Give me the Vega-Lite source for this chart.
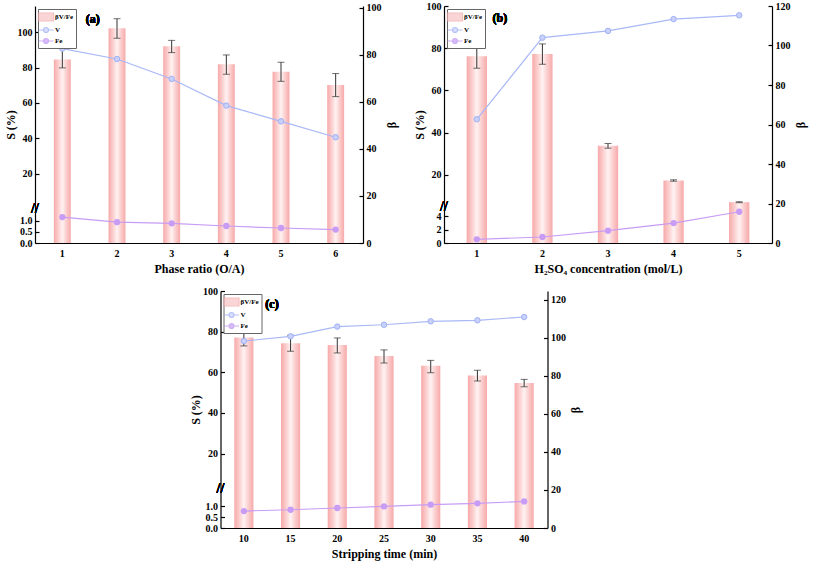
{
  "$schema": "https://vega.github.io/schema/vega-lite/v6.json",
  "padding": {"left": 4, "top": 1, "right": 3, "bottom": 3},
  "config": {
    "font": "Liberation Serif",
    "view": {"stroke": null},
    "axis": {
      "grid": false, "domainColor": "#000", "domainWidth": 1.2,
      "tickColor": "#000", "tickWidth": 1.2, "tickSize": -4, "labelPadding": 7,
      "labelFont": "Liberation Serif", "labelFontSize": 10, "labelFontWeight": "bold", "labelColor": "#000",
      "titleFont": "Liberation Serif", "titleFontSize": 12, "titleFontWeight": "bold", "titleColor": "#000",
      "labelOverlap": false
    },
    "axisX": {"labelAngle": 0, "titlePadding": 5, "labelPadding": 9},
    "axisLeft": {"titlePadding": 0},
    "axisRight": {"titleAngle": 270, "titleBaseline": "top", "titlePadding": 5},
    "legend": {
      "orient": "top-left", "offset": 3, "strokeColor": "#666", "padding": 2,
      "labelFont": "Liberation Serif", "labelFontSize": 7, "labelFontWeight": "bold",
      "symbolSize": 100, "rowPadding": 0, "labelOffset": 3, "fillColor": "#fff", "symbolStrokeWidth": 1.2
    }
  },
  "datasets": {
    "a": [
      {"x": 1, "beta": 78.0, "lo": 74.4, "hi": 82.6, "V": 90.8, "Fe": 1.16},
      {"x": 2, "beta": 91.2, "lo": 87.0, "hi": 95.3, "V": 84.9, "Fe": 0.93},
      {"x": 3, "beta": 83.6, "lo": 80.9, "hi": 86.1, "V": 73.6, "Fe": 0.88},
      {"x": 4, "beta": 75.9, "lo": 71.7, "hi": 79.9, "V": 58.5, "Fe": 0.76},
      {"x": 5, "beta": 72.8, "lo": 68.7, "hi": 76.8, "V": 49.6, "Fe": 0.67},
      {"x": 6, "beta": 67.1, "lo": 62.2, "hi": 72.0, "V": 40.6, "Fe": 0.60}
    ],
    "b": [
      {"x": 1, "beta": 94.6, "lo": 88.5, "hi": 100.6, "V": 46.3, "Fe": 0.54},
      {"x": 2, "beta": 95.7, "lo": 90.5, "hi": 100.8, "V": 85.0, "Fe": 0.89},
      {"x": 3, "beta": 49.2, "lo": 48.0, "hi": 50.4, "V": 88.2, "Fe": 1.83},
      {"x": 4, "beta": 31.7, "lo": 31.3, "hi": 32.0, "V": 93.8, "Fe": 2.96},
      {"x": 5, "beta": 20.7, "lo": 20.4, "hi": 20.9, "V": 95.6, "Fe": 4.64}
    ],
    "c": [
      {"x": 10, "beta": 100.2, "lo": 95.8, "hi": 104.2, "V": 75.4, "Fe": 0.77},
      {"x": 15, "beta": 97.2, "lo": 93.0, "hi": 101.4, "V": 77.7, "Fe": 0.83},
      {"x": 20, "beta": 96.3, "lo": 92.1, "hi": 100.0, "V": 82.5, "Fe": 0.91},
      {"x": 25, "beta": 90.5, "lo": 86.8, "hi": 93.7, "V": 83.4, "Fe": 0.98},
      {"x": 30, "beta": 85.4, "lo": 81.7, "hi": 88.2, "V": 85.1, "Fe": 1.06},
      {"x": 35, "beta": 80.3, "lo": 77.3, "hi": 83.0, "V": 85.6, "Fe": 1.12},
      {"x": 40, "beta": 76.3, "lo": 74.3, "hi": 78.2, "V": 87.2, "Fe": 1.21}
    ]
  },
  "spacing": 12,
  "center": true,
  "resolve": {"scale": {"color": "independent", "stroke": "independent", "shape": "independent"}, "legend": {"color": "independent", "stroke": "independent", "shape": "independent"}},
  "vconcat": [
    {
      "spacing": 16,
      "resolve": {"scale": {"color": "independent", "stroke": "independent", "shape": "independent"}, "legend": {"color": "independent", "stroke": "independent", "shape": "independent"}},
      "hconcat": [
        {
          "width": 328, "height": 237,
          "data": {"name": "a"},
          "encoding": {"x": {"field": "x", "type": "ordinal", "scale": {"paddingInner": 0, "paddingOuter": 0}, "axis": {"title": "Phase ratio (O/A)"}}},
          "layer": [
            {
              "encoding": {"y": {"field": "beta", "type": "quantitative", "scale": {"domain": [0, 100.7], "nice": false, "zero": false}, "axis": {"orient": "right", "title": "β", "values": [0, 20, 40, 60, 80, 100]}}},
              "layer": [
                {"mark": {"type": "bar", "width": {"band": 0.31}, "fill": {"gradient": "linear", "x1": 0, "y1": 0, "x2": 1, "y2": 0, "stops": [{"offset": 0, "color": "#f7a9a9"}, {"offset": 0.25, "color": "#fbcccc"}, {"offset": 0.5, "color": "#fff2f2"}, {"offset": 0.75, "color": "#fbcccc"}, {"offset": 1, "color": "#f7a9a9"}]}}},
                {"mark": {"type": "rule", "color": "#333", "strokeWidth": 1}, "encoding": {"y": {"field": "lo", "type": "quantitative"}, "y2": {"field": "hi"}}},
                {"mark": {"type": "tick", "color": "#333", "size": 7, "thickness": 1}, "encoding": {"y": {"field": "lo", "type": "quantitative"}}},
                {"mark": {"type": "tick", "color": "#333", "size": 7, "thickness": 1}, "encoding": {"y": {"field": "hi", "type": "quantitative"}}}
              ]
            },
            {
              "transform": [{"fold": ["V", "Fe"], "as": ["series", "S"]}],
              "encoding": {"y": {"field": "S", "type": "quantitative",
                "scale": {"domain": [0, 1.4, 2, 114.9], "range": [237, 205.7, 199.4, 0], "nice": false, "zero": false},
                "axis": {"orient": "left", "title": "S (%)", "values": [0, 0.5, 1, 20, 40, 60, 80, 100],
                  "labelExpr": "datum.value < 1.5 ? format(datum.value, '.1f') : format(datum.value, 'd')"}}},
              "layer": [
                {"transform": [{"filter": "datum.series == 'V'"}], "mark": {"type": "line", "color": "#a9b8f7", "strokeWidth": 1.2}},
                {"transform": [{"filter": "datum.series == 'V'"}], "mark": {"type": "circle", "size": 30, "fill": "#c9d1fa", "stroke": "#a0b1f5", "strokeWidth": 1, "opacity": 1}},
                {"transform": [{"filter": "datum.series == 'Fe'"}], "mark": {"type": "line", "color": "#c89cf5", "strokeWidth": 1.2}},
                {"transform": [{"filter": "datum.series == 'Fe'"}], "mark": {"type": "circle", "size": 40, "color": "#c89cf5", "opacity": 1}},
                {"mark": {"type": "text", "text": "(a)", "align": "left", "baseline": "middle", "fontSize": 12, "fontWeight": "bold"}, "encoding": {"x": {"datum": 1, "type": "ordinal", "bandPosition": 0.93}, "y": {"datum": 107.5, "type": "quantitative"}}},
                {"mark": {"type": "text", "text": "//", "align": "center", "baseline": "middle", "fontSize": 14, "color": "#000"}, "encoding": {"x": {"datum": 1, "type": "ordinal", "bandPosition": 0}, "y": {"datum": 1.7, "type": "quantitative"}}},
                {"transform": [{"filter": "false"}], "mark": {"type": "point", "filled": true, "strokeWidth": 1.2},
                 "encoding": {
                   "color": {"field": "series", "type": "nominal", "scale": {"domain": ["βV/Fe", "V", "Fe"], "range": ["#f9c4c4", "#c9d1fa", "#c89cf5"]}, "legend": {"title": null}},
                   "stroke": {"field": "series", "type": "nominal", "scale": {"domain": ["βV/Fe", "V", "Fe"], "range": ["#f5a3a3", "#93a6f3", "#b98cf0"]}, "legend": {"title": null}},
                   "shape": {"field": "series", "type": "nominal", "scale": {"domain": ["βV/Fe", "V", "Fe"], "range": ["M-1.5,-0.8H1.5V0.8H-1.5Z", "M-1.5,0H-0.5M0.5,0H1.5M0.5,0A0.5,0.5,0,1,1,-0.5,0A0.5,0.5,0,1,1,0.5,0Z", "M-1.5,0H-0.5M0.5,0H1.5M0.5,0A0.5,0.5,0,1,1,-0.5,0A0.5,0.5,0,1,1,0.5,0Z"]}, "legend": {"title": null}}
                 }}
              ]
            }
          ],
          "resolve": {"scale": {"y": "independent"}}
        },
        {
          "width": 328, "height": 237,
          "data": {"name": "b"},
          "encoding": {"x": {"field": "x", "type": "ordinal", "scale": {"paddingInner": 0, "paddingOuter": 0}, "axis": {"title": "H₂SO₄ concentration (mol/L)"}}},
          "layer": [
            {
              "encoding": {"y": {"field": "beta", "type": "quantitative", "scale": {"domain": [0, 120], "nice": false, "zero": false}, "axis": {"orient": "right", "title": "β", "values": [0, 20, 40, 60, 80, 100, 120]}}},
              "layer": [
                {"mark": {"type": "bar", "width": {"band": 0.31}, "fill": {"gradient": "linear", "x1": 0, "y1": 0, "x2": 1, "y2": 0, "stops": [{"offset": 0, "color": "#f7a9a9"}, {"offset": 0.25, "color": "#fbcccc"}, {"offset": 0.5, "color": "#fff2f2"}, {"offset": 0.75, "color": "#fbcccc"}, {"offset": 1, "color": "#f7a9a9"}]}}},
                {"mark": {"type": "rule", "color": "#333", "strokeWidth": 1}, "encoding": {"y": {"field": "lo", "type": "quantitative"}, "y2": {"field": "hi"}}},
                {"mark": {"type": "tick", "color": "#333", "size": 7, "thickness": 1}, "encoding": {"y": {"field": "lo", "type": "quantitative"}}},
                {"mark": {"type": "tick", "color": "#333", "size": 7, "thickness": 1}, "encoding": {"y": {"field": "hi", "type": "quantitative"}}}
              ]
            },
            {
              "transform": [{"fold": ["V", "Fe"], "as": ["series", "S"]}],
              "encoding": {"y": {"field": "S", "type": "quantitative",
                "scale": {"domain": [0, 5, 6, 100], "range": [237, 203.3, 198.3, 0], "nice": false, "zero": false},
                "axis": {"orient": "left", "title": "S (%)", "values": [0, 2, 4, 20, 40, 60, 80, 100], "format": "d"}}},
              "layer": [
                {"transform": [{"filter": "datum.series == 'V'"}], "mark": {"type": "line", "color": "#a9b8f7", "strokeWidth": 1.2}},
                {"transform": [{"filter": "datum.series == 'V'"}], "mark": {"type": "circle", "size": 30, "fill": "#c9d1fa", "stroke": "#a0b1f5", "strokeWidth": 1, "opacity": 1}},
                {"transform": [{"filter": "datum.series == 'Fe'"}], "mark": {"type": "line", "color": "#c89cf5", "strokeWidth": 1.2}},
                {"transform": [{"filter": "datum.series == 'Fe'"}], "mark": {"type": "circle", "size": 40, "color": "#c89cf5", "opacity": 1}},
                {"mark": {"type": "text", "text": "(b)", "align": "left", "baseline": "middle", "fontSize": 12, "fontWeight": "bold"}, "encoding": {"x": {"datum": 1, "type": "ordinal", "bandPosition": 0.74}, "y": {"datum": 94.2, "type": "quantitative"}}},
                {"mark": {"type": "text", "text": "//", "align": "center", "baseline": "middle", "fontSize": 14, "color": "#000"}, "encoding": {"x": {"datum": 1, "type": "ordinal", "bandPosition": 0}, "y": {"datum": 5.5, "type": "quantitative"}}},
                {"transform": [{"filter": "false"}], "mark": {"type": "point", "filled": true, "strokeWidth": 1.2},
                 "encoding": {
                   "color": {"field": "series", "type": "nominal", "scale": {"domain": ["βV/Fe", "V", "Fe"], "range": ["#f9c4c4", "#c9d1fa", "#c89cf5"]}, "legend": {"title": null}},
                   "stroke": {"field": "series", "type": "nominal", "scale": {"domain": ["βV/Fe", "V", "Fe"], "range": ["#f5a3a3", "#93a6f3", "#b98cf0"]}, "legend": {"title": null}},
                   "shape": {"field": "series", "type": "nominal", "scale": {"domain": ["βV/Fe", "V", "Fe"], "range": ["M-1.5,-0.8H1.5V0.8H-1.5Z", "M-1.5,0H-0.5M0.5,0H1.5M0.5,0A0.5,0.5,0,1,1,-0.5,0A0.5,0.5,0,1,1,0.5,0Z", "M-1.5,0H-0.5M0.5,0H1.5M0.5,0A0.5,0.5,0,1,1,-0.5,0A0.5,0.5,0,1,1,0.5,0Z"]}, "legend": {"title": null}}
                 }}
              ]
            }
          ],
          "resolve": {"scale": {"y": "independent"}}
        }
      ]
    },
    {
      "spacing": 12,
      "hconcat": [
        {
          "width": 327, "height": 237,
          "data": {"name": "c"},
          "encoding": {"x": {"field": "x", "type": "ordinal", "scale": {"paddingInner": 0, "paddingOuter": 0}, "axis": {"title": "Stripping time (min)"}}},
          "layer": [
            {
              "encoding": {"y": {"field": "beta", "type": "quantitative", "scale": {"domain": [0, 124.7], "nice": false, "zero": false}, "axis": {"orient": "right", "title": "β", "values": [0, 20, 40, 60, 80, 100, 120]}}},
              "layer": [
                {"mark": {"type": "bar", "width": {"band": 0.41}, "fill": {"gradient": "linear", "x1": 0, "y1": 0, "x2": 1, "y2": 0, "stops": [{"offset": 0, "color": "#f7a9a9"}, {"offset": 0.25, "color": "#fbcccc"}, {"offset": 0.5, "color": "#fff2f2"}, {"offset": 0.75, "color": "#fbcccc"}, {"offset": 1, "color": "#f7a9a9"}]}}},
                {"mark": {"type": "rule", "color": "#333", "strokeWidth": 1}, "encoding": {"y": {"field": "lo", "type": "quantitative"}, "y2": {"field": "hi"}}},
                {"mark": {"type": "tick", "color": "#333", "size": 7, "thickness": 1}, "encoding": {"y": {"field": "lo", "type": "quantitative"}}},
                {"mark": {"type": "tick", "color": "#333", "size": 7, "thickness": 1}, "encoding": {"y": {"field": "hi", "type": "quantitative"}}}
              ]
            },
            {
              "transform": [{"fold": ["V", "Fe"], "as": ["series", "S"]}],
              "encoding": {"y": {"field": "S", "type": "quantitative",
                "scale": {"domain": [0, 1.7, 3.5, 100], "range": [237, 199.6, 196.2, 0], "nice": false, "zero": false},
                "axis": {"orient": "left", "title": "S (%)", "values": [0, 0.5, 1, 20, 40, 60, 80, 100],
                  "labelExpr": "datum.value < 1.5 ? format(datum.value, '.1f') : format(datum.value, 'd')"}}},
              "layer": [
                {"transform": [{"filter": "datum.series == 'V'"}], "mark": {"type": "line", "color": "#a9b8f7", "strokeWidth": 1.2}},
                {"transform": [{"filter": "datum.series == 'V'"}], "mark": {"type": "circle", "size": 30, "fill": "#c9d1fa", "stroke": "#a0b1f5", "strokeWidth": 1, "opacity": 1}},
                {"transform": [{"filter": "datum.series == 'Fe'"}], "mark": {"type": "line", "color": "#c89cf5", "strokeWidth": 1.2}},
                {"transform": [{"filter": "datum.series == 'Fe'"}], "mark": {"type": "circle", "size": 40, "color": "#c89cf5", "opacity": 1}},
                {"mark": {"type": "text", "text": "(c)", "align": "left", "baseline": "middle", "fontSize": 12, "fontWeight": "bold"}, "encoding": {"x": {"datum": 10, "type": "ordinal", "bandPosition": 0.96}, "y": {"datum": 93.5, "type": "quantitative"}}},
                {"mark": {"type": "text", "text": "//", "align": "center", "baseline": "middle", "fontSize": 14, "color": "#000"}, "encoding": {"x": {"datum": 10, "type": "ordinal", "bandPosition": 0}, "y": {"datum": 2.6, "type": "quantitative"}}},
                {"transform": [{"filter": "false"}], "mark": {"type": "point", "filled": true, "strokeWidth": 1.2},
                 "encoding": {
                   "color": {"field": "series", "type": "nominal", "scale": {"domain": ["βV/Fe", "V", "Fe"], "range": ["#f9c4c4", "#c9d1fa", "#c89cf5"]}, "legend": {"title": null}},
                   "stroke": {"field": "series", "type": "nominal", "scale": {"domain": ["βV/Fe", "V", "Fe"], "range": ["#f5a3a3", "#93a6f3", "#b98cf0"]}, "legend": {"title": null}},
                   "shape": {"field": "series", "type": "nominal", "scale": {"domain": ["βV/Fe", "V", "Fe"], "range": ["M-1.5,-0.8H1.5V0.8H-1.5Z", "M-1.5,0H-0.5M0.5,0H1.5M0.5,0A0.5,0.5,0,1,1,-0.5,0A0.5,0.5,0,1,1,0.5,0Z", "M-1.5,0H-0.5M0.5,0H1.5M0.5,0A0.5,0.5,0,1,1,-0.5,0A0.5,0.5,0,1,1,0.5,0Z"]}, "legend": {"title": null}}
                 }}
              ]
            }
          ],
          "resolve": {"scale": {"y": "independent"}}
        },
        {"width": 27, "height": 10, "data": {"values": []}, "mark": "point"}
      ]
    }
  ]
}
